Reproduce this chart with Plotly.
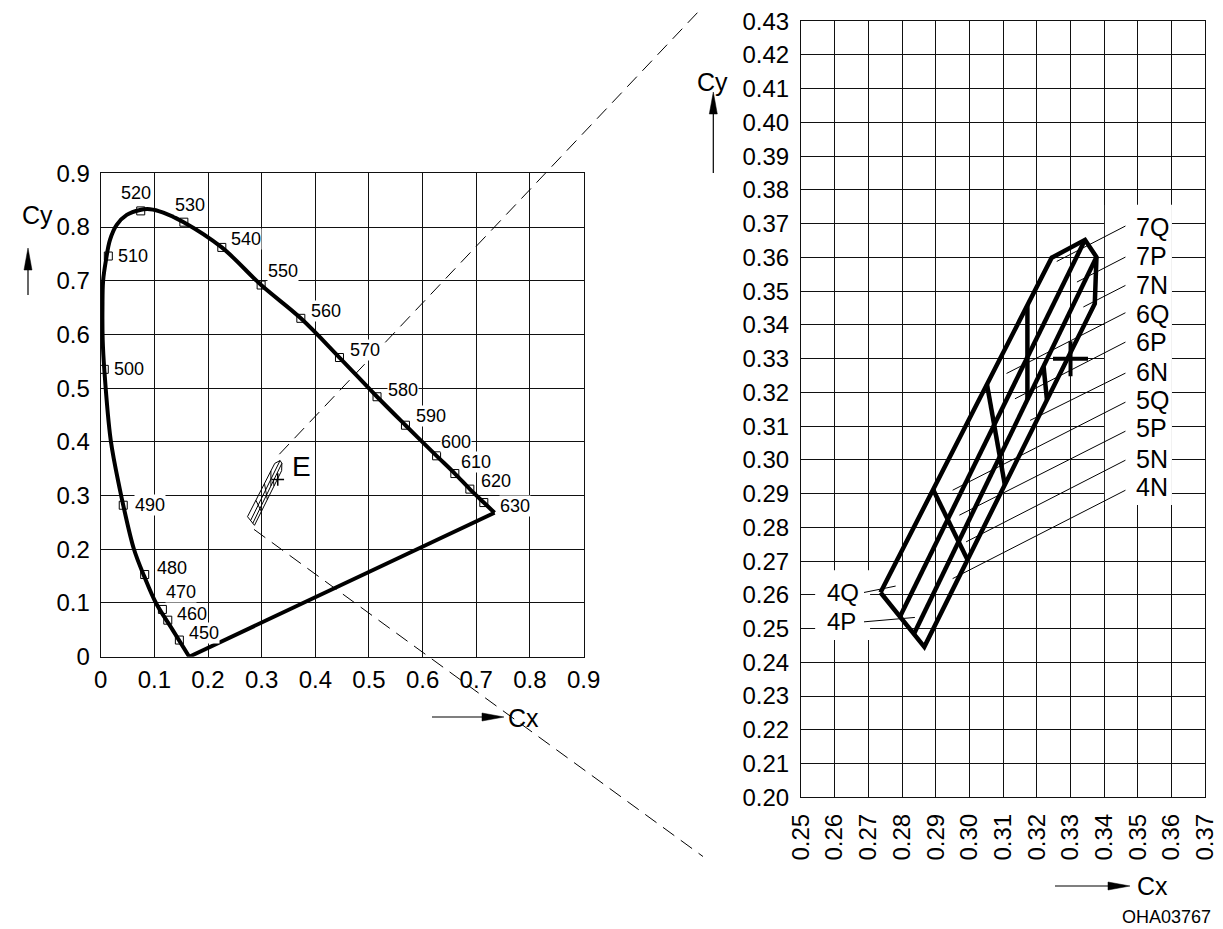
import math
import plotly.graph_objects as go

# The page body has an 8px margin; the figure is sized so that it fits the 1223x929 window.
OFF = 8
W, H = 1223 - OFF, 929 - OFF
FONT = "Liberation Sans, Arial, sans-serif"

# ---------------- left chart: CIE chromaticity diagram ----------------
locus_x = [0.165, 0.134, 0.103, 0.081, 0.062, 0.042, 0.036, 0.0187, 0.0067, 0.0037,
           0.0033, 0.0045, 0.0099, 0.0173, 0.0298, 0.0485, 0.0732, 0.0919, 0.1167,
           0.1547, 0.2257, 0.299, 0.373, 0.445, 0.515, 0.568, 0.626, 0.660, 0.688, 0.714, 0.734]
locus_y = [0.000, 0.050, 0.100, 0.150, 0.200, 0.282, 0.310, 0.403, 0.535, 0.590,
           0.650, 0.700, 0.7388, 0.7760, 0.8039, 0.8225, 0.8318, 0.8331, 0.8268,
           0.8090, 0.762, 0.692, 0.630, 0.557, 0.484, 0.431, 0.374, 0.341, 0.312, 0.287, 0.268]
purple_x = [0.734, 0.165]
purple_y = [0.268, 0.000]

wavelengths = [450, 460, 470, 480, 490, 500, 510, 520, 530, 540, 550, 560, 570, 580, 590,
               600, 610, 620, 630]
wl_x = [0.1466, 0.125, 0.115, 0.082, 0.042, 0.0067, 0.0142, 0.0746, 0.155, 0.2257, 0.299,
        0.373, 0.445, 0.515, 0.568, 0.626, 0.660, 0.688, 0.714]
wl_y = [0.031, 0.068, 0.088, 0.153, 0.282, 0.535, 0.746, 0.830, 0.809, 0.762, 0.692, 0.630,
        0.557, 0.484, 0.431, 0.374, 0.341, 0.312, 0.287]

# ---------------- right chart: colour bins ----------------
bin_x = [0.2736, 0.3244, 0.3343, 0.3377, 0.3372, 0.2866, 0.2736, None,
         0.2794, 0.3343, None,
         0.2835, 0.3377, None,
         0.2892, 0.2996, None,
         0.3052, 0.3105, None,
         0.3172, 0.3172, None,
         0.3220, 0.3230]
bin_y = [0.2607, 0.3599, 0.3652, 0.3601, 0.3463, 0.2446, 0.2607, None,
         0.2536, 0.3652, None,
         0.2484, 0.3601, None,
         0.2912, 0.2700, None,
         0.3224, 0.2926, None,
         0.3459, 0.3179, None,
         0.3277, 0.3178]
e_point_x = [0.33]
e_point_y = [0.33]

bin_labels = ["7Q", "7P", "7N", "6Q", "6P", "6N", "5Q", "5P", "5N", "4N"]
label_x = 0.3488
label_y = [0.3690, 0.3603, 0.3519, 0.3433, 0.3349, 0.3260, 0.3176, 0.3093, 0.3004, 0.2920]
leader_x0 = 0.3463
leader_y0 = [0.3693, 0.3601, 0.3517, 0.3436, 0.3349, 0.3257, 0.3171, 0.3085, 0.2999, 0.2910]
leader_x1 = [0.3259, 0.3319, 0.3338, 0.3110, 0.3135, 0.3180, 0.2950, 0.2970, 0.2990, 0.2950]
leader_y1 = [0.3588, 0.3527, 0.3453, 0.3256, 0.3181, 0.3117, 0.2910, 0.2836, 0.2757, 0.2648]

left_labels = ["4Q", "4P"]
left_label_x = 0.2571
left_label_y = [0.2606, 0.2522]
left_leader_x0 = [0.2687, 0.2687]
left_leader_y0 = [0.2607, 0.2520]
left_leader_x1 = [0.2781, 0.2838]
left_leader_y1 = [0.2626, 0.2533]

# ---------------- layout geometry (window pixels) ----------------
L_X0, L_X1, L_Y0, L_Y1 = 100.7, 583.6, 656.7, 173.3     # left plot box
R_X0, R_X1, R_Y0, R_Y1 = 801.0, 1205.3, 797.3, 21.2     # right plot box
LR = (0.0, 0.9)


def px(xp, yp):
    """window pixel -> paper fraction"""
    return (xp - OFF) / W, 1 - (yp - OFF) / H


def left_to_paper(x, y):
    xp = L_X0 + (x - LR[0]) / (LR[1] - LR[0]) * (L_X1 - L_X0)
    yp = L_Y0 + (y - LR[0]) / (LR[1] - LR[0]) * (L_Y1 - L_Y0)
    return px(xp, yp)


label_offsets = {450: (9, -7), 460: (8, -6), 470: (3, -17), 480: (11, -7), 490: (11, 0),
                 500: (9, 0), 510: (9, 0), 520: (-21, -18), 530: (-10, -17), 540: (8, -8),
                 550: (6, -14), 560: (9, -7), 570: (10, -8), 580: (10, -7), 590: (10, -9),
                 600: (3, -14), 610: (5, -12), 620: (10, -8), 630: (15, 3)}

fig = go.Figure()

# left chart traces
fig.add_trace(go.Scatter(x=locus_x, y=locus_y, mode="lines",
                         line=dict(color="black", width=4, shape="spline", smoothing=1.0),
                         xaxis="x", yaxis="y", hoverinfo="skip"))
fig.add_trace(go.Scatter(x=purple_x, y=purple_y, mode="lines", line=dict(color="black", width=4),
                         xaxis="x", yaxis="y", hoverinfo="skip"))
fig.add_trace(go.Scatter(x=wl_x, y=wl_y, mode="markers",
                         marker=dict(symbol="square-open", size=8, color="black",
                                     line=dict(width=1, color="black")),
                         xaxis="x", yaxis="y", hoverinfo="skip"))
fig.add_trace(go.Scatter(x=bin_x, y=bin_y, mode="lines", line=dict(color="black", width=1),
                         xaxis="x", yaxis="y", hoverinfo="skip"))
fig.add_trace(go.Scatter(x=e_point_x, y=e_point_y, mode="markers",
                         marker=dict(symbol="cross-thin", size=9, line=dict(width=1.5, color="black")),
                         xaxis="x", yaxis="y", hoverinfo="skip"))

# right chart traces
lx, ly = [], []
for y0, x1, y1 in zip(leader_y0, leader_x1, leader_y1):
    lx += [leader_x0, x1, None]
    ly += [y0, y1, None]
for x0, y0, x1, y1 in zip(left_leader_x0, left_leader_y0, left_leader_x1, left_leader_y1):
    lx += [x0, x1, None]
    ly += [y0, y1, None]
fig.add_trace(go.Scatter(x=lx, y=ly, mode="lines", line=dict(color="black", width=1),
                         xaxis="x2", yaxis="y2", hoverinfo="skip"))
fig.add_trace(go.Scatter(x=bin_x, y=bin_y, mode="lines", line=dict(color="black", width=4.5),
                         xaxis="x2", yaxis="y2", hoverinfo="skip"))
fig.add_trace(go.Scatter(x=e_point_x, y=e_point_y, mode="markers",
                         marker=dict(symbol="cross-thin", size=25, line=dict(width=4, color="black")),
                         xaxis="x2", yaxis="y2", hoverinfo="skip"))

annotations = []
for wl, x, y in zip(wavelengths, wl_x, wl_y):
    dx, dy = label_offsets[wl]
    annotations.append(dict(x=x, y=y, xref="x", yref="y", text=str(wl), showarrow=False,
                            xanchor="left", yanchor="middle", xshift=dx, yshift=-dy,
                            font=dict(size=18, family=FONT, color="black"),
                            bgcolor="white", borderpad=0))
annotations.append(dict(x=0.353, y=0.355, xref="x", yref="y", text="E", showarrow=False,
                        xanchor="left", yanchor="middle", font=dict(size=28, family=FONT, color="black")))
for t, y in zip(bin_labels, label_y):
    annotations.append(dict(x=label_x, y=y, xref="x2", yref="y2", text=t, showarrow=False,
                            xanchor="left", yanchor="middle", font=dict(size=25, family=FONT, color="black")))
for t, y in zip(left_labels, left_label_y):
    annotations.append(dict(x=left_label_x, y=y, xref="x2", yref="y2", text=t, showarrow=False,
                            xanchor="left", yanchor="middle", font=dict(size=24, family=FONT, color="black")))


def text_px(xp, yp, t, size, xanchor="center"):
    x, y = px(xp, yp)
    annotations.append(dict(x=x, y=y, xref="paper", yref="paper", text=t, showarrow=False,
                            xanchor=xanchor, yanchor="middle",
                            font=dict(size=size, family=FONT, color="black")))


text_px(37, 215, "Cy", 25)
text_px(506, 718, "Cx", 25, "left")
text_px(712, 82, "Cy", 25)
text_px(1135, 886, "Cx", 25, "left")
text_px(1213, 917, "OHA03767", 18, "right")

shapes = []


def arrow(x0, y0, x1, y1, head_len=22, head_w=8):
    dx, dy = x1 - x0, y1 - y0
    d = math.hypot(dx, dy)
    ux, uy = dx / d, dy / d
    bx, by = x1 - ux * head_len, y1 - uy * head_len
    nx, ny = -uy, ux
    a = px(x0, y0)
    b = px(bx, by)
    shapes.append(dict(type="line", xref="paper", yref="paper", x0=a[0], y0=a[1], x1=b[0], y1=b[1],
                       line=dict(color="black", width=1.2)))
    p1 = px(x1, y1)
    p2 = px(bx + nx * head_w / 2, by + ny * head_w / 2)
    p3 = px(bx - nx * head_w / 2, by - ny * head_w / 2)
    shapes.append(dict(type="path", xref="paper", yref="paper",
                       path=f"M{p1[0]},{p1[1]} L{p2[0]},{p2[1]} L{p3[0]},{p3[1]} Z",
                       fillcolor="black", line=dict(color="black", width=0.5)))


arrow(28, 295, 28, 248)
arrow(432, 717, 504, 717)
arrow(713.3, 173, 713.3, 92)
arrow(1055, 886, 1130, 886)

# dashed perspective lines from the small region in the left chart
for (xa, ya), (xb, yb) in [((0.333, 0.377), (1.1225, 1.210)), ((0.2857, 0.237), (1.1225, -0.372))]:
    a = left_to_paper(xa, ya)
    b = left_to_paper(xb, yb)
    shapes.append(dict(type="line", xref="paper", yref="paper", x0=a[0], y0=a[1], x1=b[0], y1=b[1],
                       line=dict(color="black", width=1, dash="14px,8px")))

# white boxes behind the right-chart labels
shapes.append(dict(type="rect", xref="x2", yref="y2", x0=0.3402, x1=0.3601, y0=0.2866, y1=0.3756,
                   fillcolor="white", line=dict(width=0), layer="between"))
shapes.append(dict(type="rect", xref="x2", yref="y2", x0=0.2542, x1=0.2705, y0=0.2466, y1=0.2673,
                   fillcolor="white", line=dict(width=0), layer="between"))

axis_common = dict(showgrid=True, gridcolor="#111", gridwidth=1, showline=True, mirror=True,
                   linecolor="#111", linewidth=1, zeroline=False, ticks="", fixedrange=True,
                   automargin=False, ticklabeloverflow="allow")

lx0, ly0 = px(L_X0, L_Y0)
lx1, ly1 = px(L_X1, L_Y1)
rx0, ry0 = px(R_X0, R_Y0)
rx1, ry1 = px(R_X1, R_Y1)

fig.update_layout(
    width=W, height=H, margin=dict(l=0, r=0, t=0, b=0), showlegend=False,
    paper_bgcolor="white", plot_bgcolor="white",
    font=dict(family=FONT, color="black"),
    xaxis=dict(domain=[lx0, lx1], range=[0, 0.9], dtick=0.1, tick0=0, anchor="y",
               tickfont=dict(size=24), ticklabelstandoff=1, **axis_common),
    yaxis=dict(domain=[ly0, ly1], range=[0, 0.9], dtick=0.1, tick0=0, anchor="x",
               tickfont=dict(size=24), ticklabelstandoff=5, **axis_common),
    xaxis2=dict(domain=[rx0, rx1], range=[0.25, 0.37], dtick=0.01, tick0=0.25, anchor="y2",
                tickformat=".2f", tickangle=-90, tickfont=dict(size=24), ticklabelstandoff=6,
                **axis_common),
    yaxis2=dict(domain=[ry0, ry1], range=[0.2, 0.43], dtick=0.01, tick0=0.2, anchor="x2",
                tickformat=".2f", tickfont=dict(size=24), ticklabelstandoff=6, **axis_common),
    annotations=annotations, shapes=shapes,
)

fig.write_html("out.html")
